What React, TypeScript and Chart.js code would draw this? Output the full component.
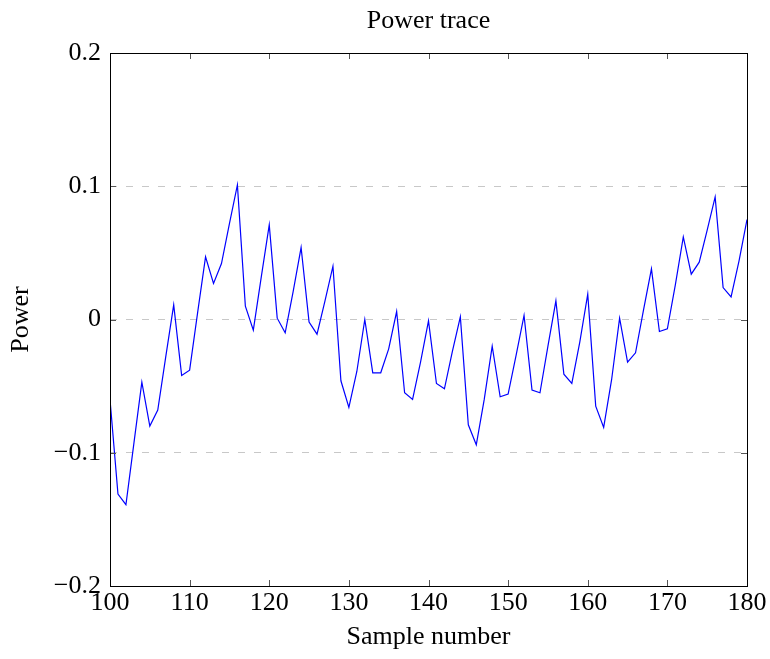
import React, { useEffect, useRef } from "react";
import { Chart, registerables } from "chart.js";

Chart.register(...registerables);

const samples: number[] = [];
for (let i = 100; i <= 180; i++) samples.push(i);

const power: number[] = [
  -0.060, -0.131, -0.139, -0.093, -0.047, -0.080, -0.068, -0.028, 0.011, -0.042,
  -0.038, 0.005, 0.047, 0.027, 0.042, 0.072, 0.101, 0.010, -0.008, 0.032,
  0.071, 0.001, -0.010, 0.021, 0.054, -0.002, -0.011, 0.014, 0.040, -0.046,
  -0.066, -0.039, 0.000, -0.040, -0.040, -0.022, 0.006, -0.055, -0.060, -0.032,
  -0.001, -0.048, -0.052, -0.024, 0.002, -0.079, -0.094, -0.060, -0.020, -0.058,
  -0.056, -0.027, 0.003, -0.053, -0.055, -0.020, 0.014, -0.041, -0.048, -0.017,
  0.019, -0.065, -0.081, -0.045, 0.001, -0.032, -0.025, 0.007, 0.038, -0.009,
  -0.007, 0.026, 0.062, 0.034, 0.043, 0.067, 0.092, 0.024, 0.017, 0.044,
  0.075,
];

const xTicks = [100, 110, 120, 130, 140, 150, 160, 170, 180];
const yTicks = [-0.2, -0.1, 0, 0.1, 0.2];
const titleText = "Power trace";

const FONT = "'Liberation Serif', 'Times New Roman', serif";

const framePlugin = {
  id: "frame",
  afterDraw(chart: any) {
    const { ctx, chartArea } = chart;
    const { left, right, top, bottom } = chartArea;
    const xs = chart.scales.x;
    const ys = chart.scales.y;
    ctx.save();
    ctx.strokeStyle = "#555";
    ctx.lineWidth = 1;
    ctx.beginPath();
    for (const t of xTicks) {
      const px = Math.round(xs.getPixelForValue(t)) + 0.5;
      ctx.moveTo(px, bottom);
      ctx.lineTo(px, bottom - 6);
      ctx.moveTo(px, top);
      ctx.lineTo(px, top + 6);
    }
    for (const t of yTicks) {
      const py = Math.round(ys.getPixelForValue(t)) + 0.5;
      ctx.moveTo(left, py);
      ctx.lineTo(left + 6, py);
      ctx.moveTo(right, py);
      ctx.lineTo(right - 6, py);
    }
    ctx.stroke();
    ctx.strokeStyle = "#000";
    ctx.lineWidth = 1;
    ctx.strokeRect(Math.round(left) + 0.5, Math.round(top) + 0.5, Math.round(right - left), Math.round(bottom - top));
    // title centred over the plot area
    ctx.fillStyle = "#000";
    ctx.font = `26px ${FONT}`;
    ctx.textAlign = "center";
    ctx.textBaseline = "middle";
    ctx.fillText(titleText, (left + right) / 2, 21);
    ctx.restore();
  },
};

export default function App() {
  const ref = useRef<HTMLCanvasElement>(null);
  useEffect(() => {
    if (!ref.current) return;
    const chart = new Chart(ref.current, {
      type: "line",
      data: {
        datasets: [
          {
            data: samples.map((s, i) => ({ x: s, y: power[i] })),
            borderColor: "#0000ff",
            borderWidth: 1.2,
            pointRadius: 0,
            tension: 0,
            fill: false,
          },
        ],
      },
      options: {
        responsive: false,
        animation: false,
        layout: { padding: { left: 0, right: 23, top: 53, bottom: 0 } },
        plugins: {
          legend: { display: false },
          tooltip: { enabled: false },
          title: { display: false },
        },
        scales: {
          x: {
            type: "linear",
            min: 100,
            max: 180,
            afterFit: (s: any) => {
              s.height = 73;
            },
            afterBuildTicks: (s: any) => {
              s.ticks = xTicks.map((v) => ({ value: v }));
            },
            ticks: {
              color: "#000",
              font: { family: FONT, size: 26 },
              padding: 2,
              maxRotation: 0,
              callback: (v: any) => String(v),
            },
            grid: { display: false, drawTicks: false },
            border: { display: false },
            title: {
              display: true,
              text: "Sample number",
              color: "#000",
              font: { family: FONT, size: 26 },
              padding: { top: 0, bottom: 6 },
            },
          },
          y: {
            type: "linear",
            min: -0.2,
            max: 0.2,
            afterFit: (s: any) => {
              s.width = 110;
            },
            afterBuildTicks: (s: any) => {
              s.ticks = yTicks.map((v) => ({ value: v }));
            },
            ticks: {
              color: "#000",
              font: { family: FONT, size: 26 },
              padding: 9,
              callback: (v: any) => {
                const n = Number(v);
                if (Math.abs(n) < 1e-9) return "0";
                const s = Math.abs(n).toFixed(1);
                return n < 0 ? "\u2212" + s : s;
              },
            },
            grid: {
              display: true,
              drawTicks: false,
              color: "#c8c8c8",
              lineWidth: 1,
            },
            border: { display: false, dash: [7, 9] },
            title: {
              display: true,
              text: "Power",
              color: "#000",
              font: { family: FONT, size: 26 },
              padding: { top: 6, bottom: 0 },
            },
          },
        },
      },
      plugins: [framePlugin],
    });
    return () => chart.destroy();
  }, []);
  return (
    <div style={{ position: "absolute", left: 0, top: 0, width: 770, height: 659, background: "#fff" }}>
      <canvas ref={ref} width={770} height={659} style={{ width: 770, height: 659, display: "block" }} />
    </div>
  );
}
